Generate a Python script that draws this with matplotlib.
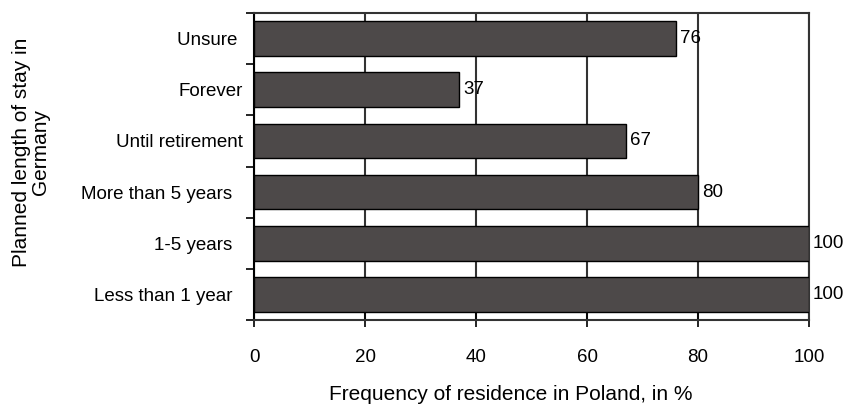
import matplotlib.pyplot as plt
import numpy as np

# categories listed bottom to top (trailing spaces as in the original labels)
categories = ["Less than 1 year  ", "1-5 years  ", "More than 5 years  ",
              "Until retirement", "Forever", "Unsure "]
values = [100, 100, 80, 67, 37, 76]
x_ticks = [0, 20, 40, 60, 80, 100]

plt.rcParams["font.family"] = ["Liberation Sans", "DejaVu Sans"]

fig = plt.figure(figsize=(8.45, 4.09), dpi=100)
ax = fig.add_axes([254 / 845, 1 - 320 / 409, 555 / 845, 307 / 409])

y = np.arange(len(categories))
ax.barh(y, values, height=0.68, color="#4d4949", edgecolor="black",
        linewidth=1.0, zorder=3)

for yi, v in zip(y, values):
    ax.text(v + 0.7, yi, str(v), va="center", ha="left", fontsize=13.5, zorder=4)

ax.set_xlim(0, 100)
ax.set_ylim(-0.5, len(categories) - 0.5)
ax.set_xticks(x_ticks)
ax.tick_params(axis="x", direction="inout", length=10, width=1.2,
               labelsize=13.5, pad=16, colors="black")
ax.xaxis.grid(True, color="#333333", linewidth=1.5, zorder=0)

# y ticks sit between categories, labels at category centres
ax.set_yticks(np.arange(-0.5, len(categories), 1.0))
ax.set_yticklabels([])
ax.set_yticks(y, minor=True)
ax.set_yticklabels(categories, minor=True, fontsize=13.5)
ax.tick_params(axis="y", which="major", direction="out", length=6, width=1.2)
ax.tick_params(axis="y", which="minor", length=0, pad=8)

for s in ax.spines.values():
    s.set_color("#333333")
    s.set_linewidth(1.5)
ax.spines["left"].set_color("black")

fig.text(511 / 845, 1 - 395 / 409, "Frequency of residence in Poland, in %",
         ha="center", va="center", fontsize=15)
fig.text(31 / 845, 1 - 152 / 409, "Planned length of stay in\nGermany",
         ha="center", va="center", rotation=90, fontsize=15, linespacing=1.05)

fig.savefig("out.png", dpi=100)
